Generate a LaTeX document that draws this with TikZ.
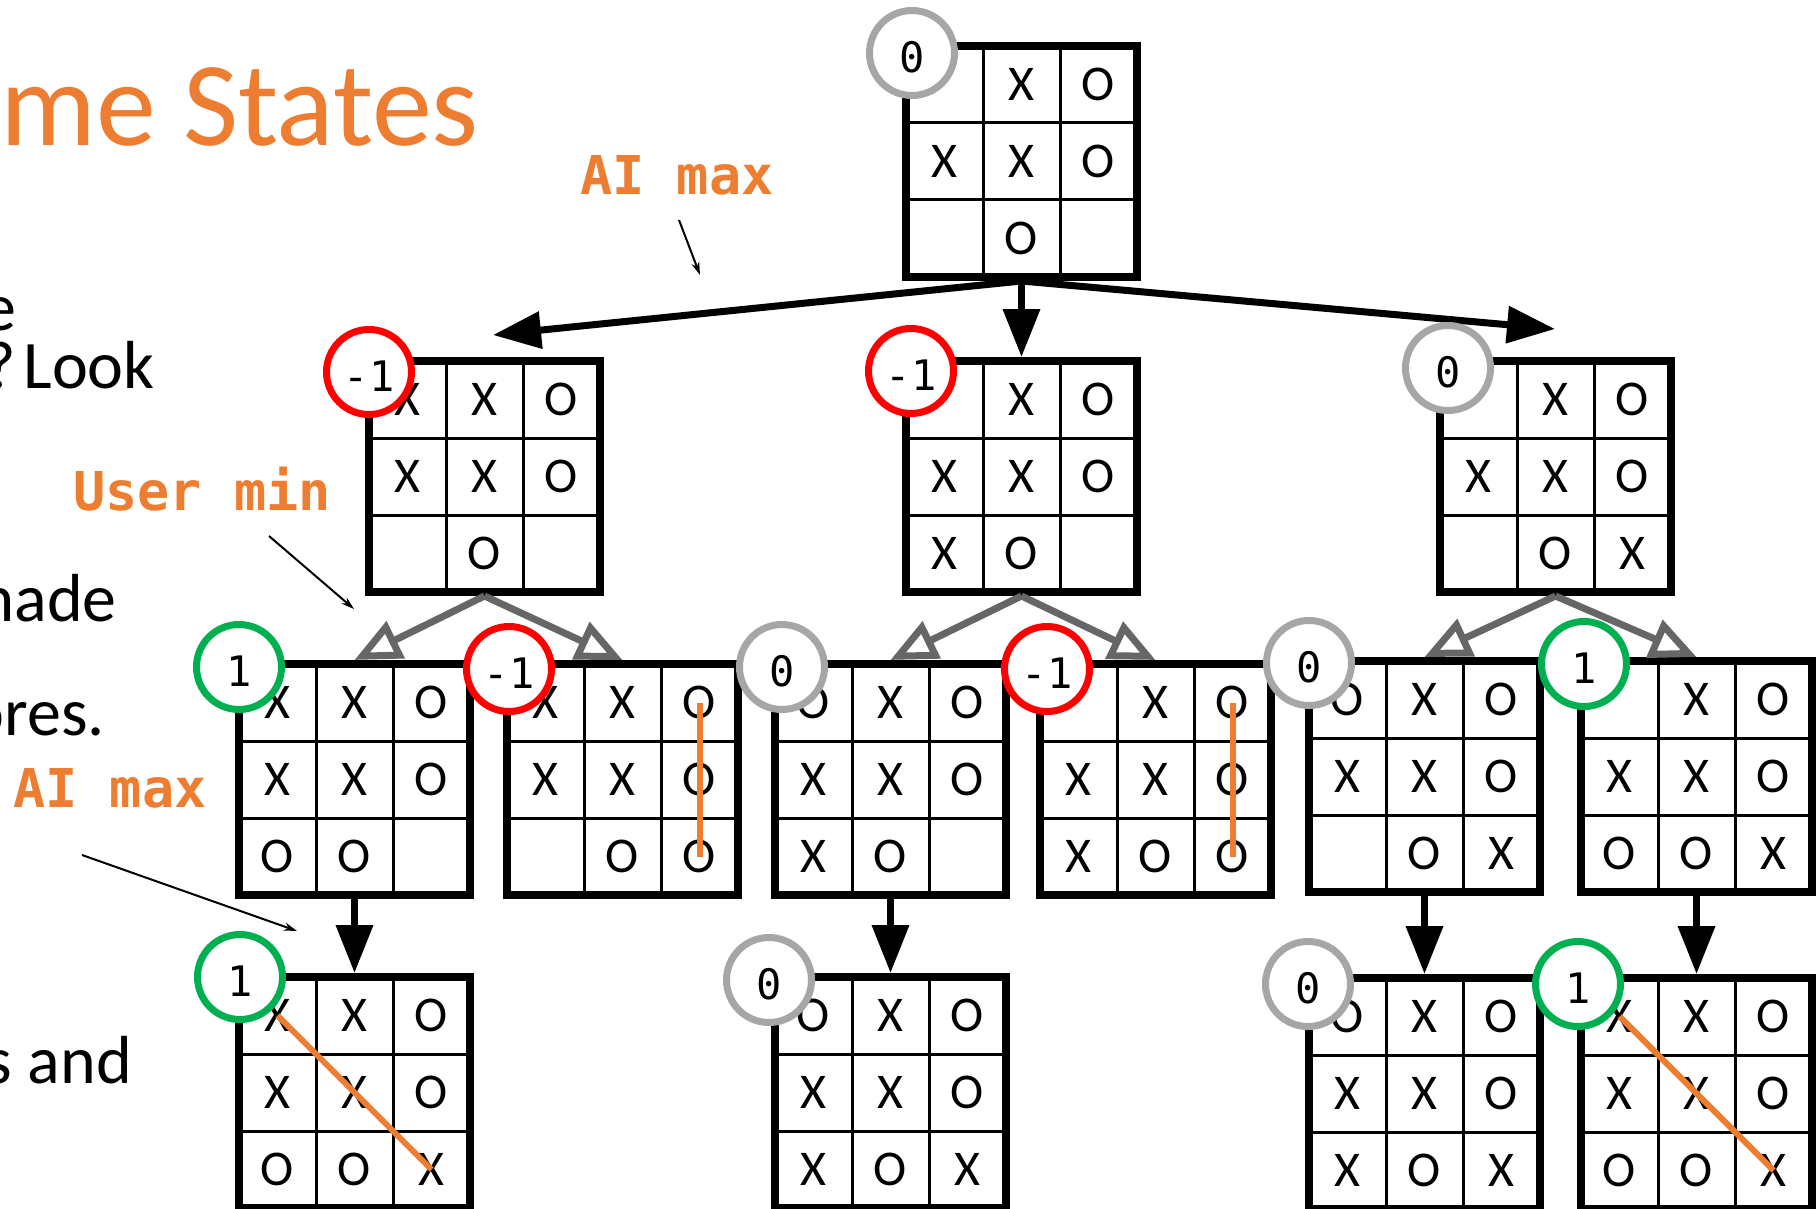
\documentclass[tikz,border=0pt]{standalone}
\usepackage{fontspec}
\setmainfont{Carlito}
\newfontfamily\monof{DejaVu Sans Mono}
\usetikzlibrary{arrows.meta}
\definecolor{orng}{HTML}{ED7D31}
\definecolor{cgray}{HTML}{A6A6A6}
\definecolor{cred}{HTML}{FF0000}
\definecolor{cgreen}{HTML}{00B050}
\definecolor{agray}{HTML}{666666}
\tikzset{
  board/.style={draw=black, line width=8pt, minimum size=231pt, inner sep=0pt},
  gridline/.style={draw=black, line width=3pt},
  cellmark/.style={inner sep=0pt, font=\fontsize{50}{54}\selectfont},
  valc/.style={circle, minimum size=85pt, inner sep=0pt, line width=7pt, fill=white,
               text height=39pt, text depth=0pt, font=\monof\fontsize{42}{44}\selectfont},
  vgray/.style={valc, draw=cgray},
  vred/.style={valc, draw=cred},
  vgreen/.style={valc, draw=cgreen},
  bigarrow/.style={line width=7pt, -{Triangle[length=48pt,width=36pt]}},
  grayarrow/.style={draw=agray, line width=7pt, -{Triangle[length=46pt,width=40pt,fill=white]}},
  winline/.style={draw=orng, line width=6pt},
  thinarrow/.style={line width=2pt, -{Stealth[length=13pt,width=8pt]}},
  orlabel/.style={text=orng, inner sep=0pt, anchor=base west, font=\monof\bfseries\fontsize{53.5}{56}\selectfont},
  bodytext/.style={inner sep=0pt, anchor=base east, font=\fontsize{68}{72}\selectfont},
}
\newcommand\tttboard[4]{%
  \node[board] (#1) at (#2+115.5,#3+115.5) {};
  \draw[gridline] (#2+77,#3) -- (#2+77,#3+231) (#2+154,#3) -- (#2+154,#3+231)
                  (#2,#3+77) -- (#2+231,#3+77) (#2,#3+154) -- (#2+231,#3+154);
  \foreach \m [count=\i from 0] in {#4} {
    \pgfmathtruncatemacro\col{mod(\i,3)}
    \pgfmathtruncatemacro\row{int(\i/3)}
    \node[cellmark] (#1-\i) at (#2+38.5+77*\col, #3+38.5+77*\row) {\m};
  }
}
\begin{document}
\begin{tikzpicture}[x=1pt, y=-1pt]
\useasboundingbox (0,0) rectangle (1818,1209);
\clip (0,0) rectangle (1818,1209);

% boards
\tttboard{root}{906}{46}{{},X,O,X,X,O,{},O,{}}
\tttboard{A}{369}{361}{X,X,O,X,X,O,{},O,{}}
\tttboard{B}{906}{361}{{},X,O,X,X,O,X,O,{}}
\tttboard{C}{1440}{361}{{},X,O,X,X,O,{},O,X}
\tttboard{a1}{239}{664}{X,X,O,X,X,O,O,O,{}}
\tttboard{a2}{507}{664}{X,X,O,X,X,O,{},O,O}
\tttboard{b1}{775}{664}{O,X,O,X,X,O,X,O,{}}
\tttboard{b2}{1040}{664}{{},X,O,X,X,O,X,O,O}
\tttboard{c1}{1309}{661}{O,X,O,X,X,O,{},O,X}
\tttboard{c2}{1581}{661}{{},X,O,X,X,O,O,O,X}
\tttboard{e1}{239}{977}{X,X,O,X,X,O,O,O,X}
\tttboard{f1}{775}{977}{O,X,O,X,X,O,X,O,X}
\tttboard{d3}{1309}{978}{O,X,O,X,X,O,X,O,X}
\tttboard{d4}{1581}{978}{X,X,O,X,X,O,O,O,X}

% winning lines
\draw[winline] (a2-2.center) -- (a2-8.center);
\draw[winline] (b2-2.center) -- (b2-8.center);
\draw[winline] (e1-0.center) -- (e1-8.center);
\draw[winline] (d4-0.center) -- (d4-8.center);

% arrows from root
\coordinate (tipA) at (493,335);
\coordinate (tipC) at (1555,329);
\draw[bigarrow] (root.south) -- (tipA);
\draw[bigarrow] (root.south) -- (B.north);
\draw[bigarrow] (root.south) -- (tipC);

% gray arrows
\draw[grayarrow] (A.south) -- (a1.north);
\draw[grayarrow] (A.south) -- (a2.north);
\draw[grayarrow] (B.south) -- (b1.north);
\draw[grayarrow] (B.south) -- (b2.north);
\draw[grayarrow] (C.south) -- (c1.north);
\draw[grayarrow] (C.south) -- (c2.north);

% black arrows to last level
\draw[bigarrow] (a1.south) -- (e1.north);
\draw[bigarrow] (b1.south) -- (f1.north);
\draw[bigarrow] (c1.south) -- (d3.north);
\draw[bigarrow] (c2.south) -- (d4.north);

% value circles
\node[vgray] (vroot) at (912,53) {0};
\node[vred] (vA) at (369,372) {-1};
\node[vred] (vB) at (911,371) {-1};
\node[vgray] (vC) at (1448,368) {0};
\node[vgreen] (va1) at (239,667) {1};
\node[vred] (va2) at (509,669) {-1};
\node[vgray] (vb1) at (782,667) {0};
\node[vred] (vb2) at (1047,669) {-1};
\node[vgray] (vc1) at (1309,663) {0};
\node[vgreen] (vc2) at (1584,664) {1};
\node[vgreen] (ve1) at (240,977) {1};
\node[vgray] (vf1) at (769,980) {0};
\node[vgray] (vd3) at (1308,984) {0};
\node[vgreen] (vd4) at (1578,984) {1};

% title and body text
\node[inner sep=0pt, anchor=base east, text=orng, font=\fontsize{120}{124}\selectfont] (title) at (479,146) {ame States};
\node[bodytext] (t1) at (17,330) {e};
\node[bodytext] (t2) at (155,388) {?\hspace{8pt}Look};
\node[bodytext] (t3) at (117,621) {made};
\node[bodytext] (t4) at (105,735) {ores.};
\node[bodytext] (t5) at (132,1083) {s and};

% orange labels
\node[orlabel] (lab1) at (580,195) {AI max};
\node[orlabel] (lab2) at (73,510) {User min};
\node[orlabel] (lab3) at (13,807) {AI max};

\coordinate (p1s) at (679,220); \coordinate (p1e) at (700,275);
\coordinate (p2s) at (269,536); \coordinate (p2e) at (354,609);
\coordinate (p3s) at (82,855);  \coordinate (p3e) at (297,931);
\draw[thinarrow] (p1s) -- (p1e);
\draw[thinarrow] (p2s) -- (p2e);
\draw[thinarrow] (p3s) -- (p3e);
\end{tikzpicture}
\end{document}
